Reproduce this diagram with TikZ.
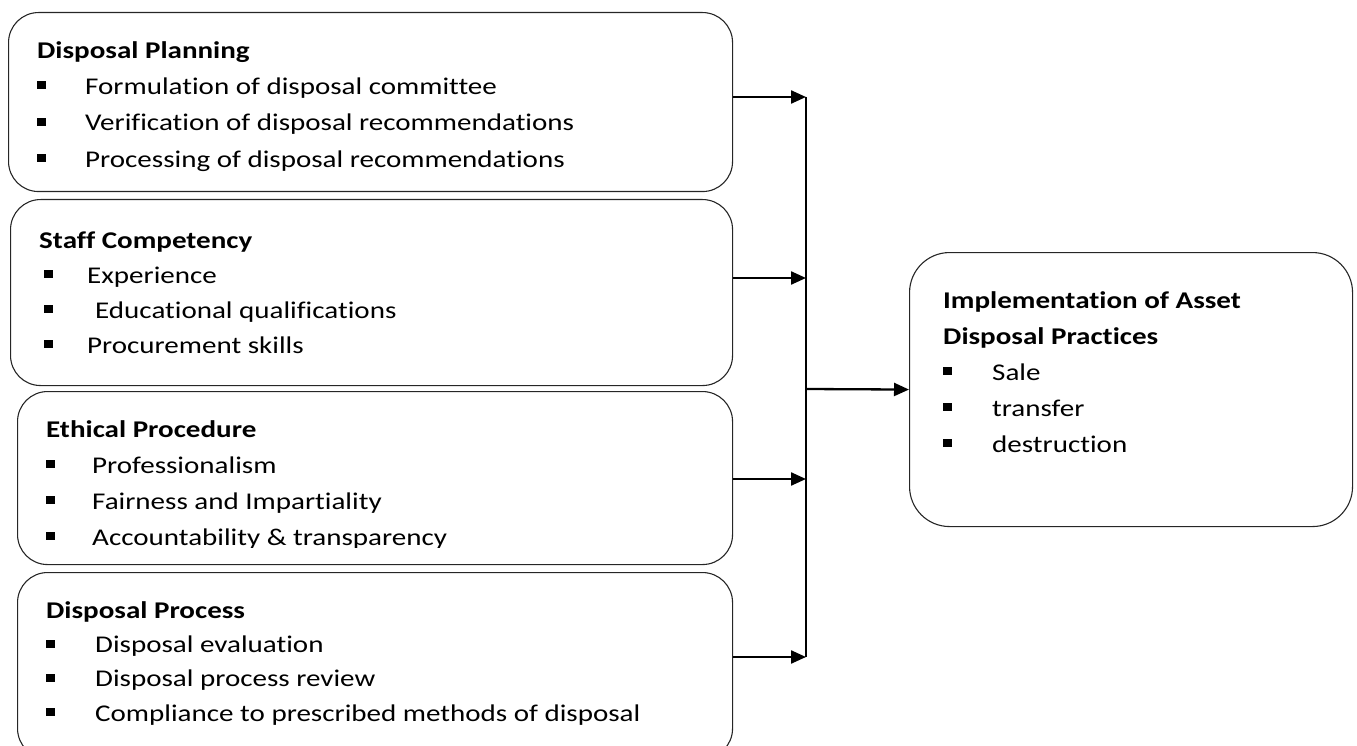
\documentclass[tikz,border=0pt]{standalone}
\usepackage{fontspec}
\setmainfont{Carlito}[FakeStretch=1.21, Ligatures=NoCommon]
\usetikzlibrary{arrows.meta,positioning,calc}

% square bullet followed by the item text
\newcommand{\sqbul}{\rule[5pt]{8.5pt}{8pt}}
\newcommand{\itm}[2][48pt]{\makebox[#1][l]{\sqbul}#2}
\newcommand{\tophold}{\rule{0pt}{20pt}}

\begin{document}
\begin{tikzpicture}[x=1pt, y=-1pt, panel/.style={draw=black!85, line width=1.1pt, rounded corners=30pt, inner sep=0pt, anchor=north west}, listtext/.style={anchor=north west, inner sep=0pt, align=left, font=\fontsize{24}{#1}\selectfont}, arr/.style={-{Triangle[length=15pt,width=13pt]}, line width=2.3pt}, busline/.style={line width=2.3pt}]
\useasboundingbox (0,0) rectangle (1357,746);
\clip (0,0) rectangle (1357,746);
% boxes
\node[panel, minimum width=724pt, minimum height=179pt] (plan) at (8,12) {};
\node[panel, minimum width=722pt, minimum height=186pt] (staff) at (10,199) {};
\node[panel, minimum width=715pt, minimum height=173pt] (ethic) at (17,391) {};
\node[panel, minimum width=715pt, minimum height=186pt] (proc) at (17,572) {};
\node[panel, rounded corners=40pt, minimum width=443pt, minimum height=274pt] (impl) at (909,252) {};
% texts
\node[listtext=36.3pt] (planText) at (37,38) {\tophold\textbf{Disposal Planning}\\ \itm{Formulation of disposal committee}\\ \itm{Verification of disposal recommendations}\\ \itm{Processing of disposal recommendations}};
\node[listtext=35pt] (staffText) at (39,228) {\tophold\textbf{Staff Competency}\\ \hspace*{5pt}\itm[43pt]{Experience}\\ \hspace*{5pt}\itm[43pt]{\hspace*{8pt}Educational qualifications}\\ \hspace*{5pt}\itm[43pt]{Procurement skills}};
\begin{scope}
\clip (ethic.north west) rectangle ($(ethic.south east)+(0,-17.5)$);
\node[listtext=36pt] (ethicText) at (46,417) {\tophold\textbf{Ethical Procedure}\\ \itm[46pt]{Professionalism}\\ \itm[46pt]{Fairness and Impartiality}\\ \itm[46pt]{Accountability \& transparency}};
\end{scope}
\node[listtext=34.3pt] (procText) at (46,598) {\tophold\textbf{Disposal Process}\\ \itm[49pt]{Disposal evaluation}\\ \itm[49pt]{Disposal process review}\\ \itm[49pt]{Compliance to prescribed methods of disposal}};
\node[listtext=36pt] (implText) at (943,288) {\tophold\textbf{Implementation of Asset}\\ \textbf{Disposal Practices}\\ \itm[49pt]{Sale}\\ \itm[49pt]{transfer}\\ \itm[49pt]{destruction}};
% connectors
\coordinate (bus1) at (806,97);
\coordinate (bus2) at (806,278);
\coordinate (bus3) at (806,479);
\coordinate (bus4) at (806,657);
\coordinate (busmid) at (806,389);
\draw[busline] (bus1) -- (bus4);
\draw[arr] (plan.east |- bus1) -- (bus1);
\draw[arr] (staff.east |- bus2) -- (bus2);
\draw[arr] (ethic.east |- bus3) -- (bus3);
\draw[arr] (proc.east |- bus4) -- (bus4);
\draw[arr] (busmid) -- (impl.west);
\end{tikzpicture}
\end{document}
